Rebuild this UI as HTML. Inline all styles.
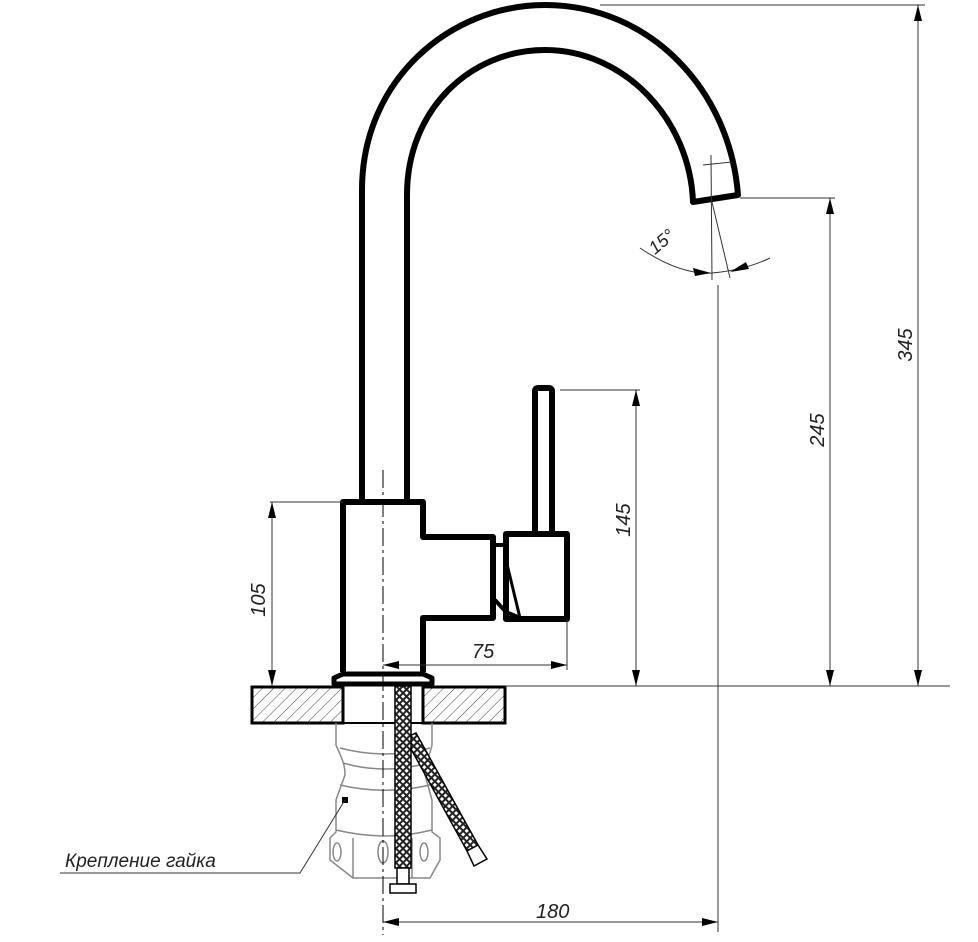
<!DOCTYPE html>
<html><head><meta charset="utf-8"><style>body{margin:0;background:#fff}svg{display:block}</style></head>
<body>
<svg width="978" height="942" viewBox="0 0 978 942" xmlns="http://www.w3.org/2000/svg" font-family="Liberation Sans, sans-serif">
<defs>
<pattern id="h" width="8" height="8" patternUnits="userSpaceOnUse" patternTransform="rotate(45)">
<line x1="0" y1="0" x2="0" y2="8" stroke="#444" stroke-width="1"/></pattern>
<pattern id="mesh" width="5" height="5" patternUnits="userSpaceOnUse" patternTransform="rotate(45)">
<rect width="5" height="5" fill="#222"/><rect x="1" y="1" width="3" height="3" fill="#fff"/></pattern>
</defs>
<g fill="none" stroke="#000" stroke-width="6" stroke-linejoin="round">
<path d="M362,500 L362,190 C362,80 450,5 545,5 C650,5 730,90 738,195 L693,202 C690,120 625,50 545,50 C470,50 407,110 407,195 L407,500"/>
<path d="M343,672 L343,502 L423,502 L423,537 L493,537 L493,618 L423,618 L423,672"/>
<rect x="506" y="534" width="61" height="85"/>
<rect x="535" y="388" width="17" height="146" rx="3"/>
<path d="M334,684 L334,678 L343,674 L423,674 L432,678 L432,684 Z" stroke-width="5"/>
</g>
<path d="M495,545 L506,545 M495,600 L506,612 L520,618" stroke="#000" stroke-width="4" fill="none"/>
<path d="M506,560 L520,618" stroke="#000" stroke-width="3" fill="none"/>
<!-- countertop -->
<rect x="252" y="687" width="91" height="36" fill="url(#h)" stroke="#000" stroke-width="3"/>
<rect x="423" y="687" width="82" height="36" fill="url(#h)" stroke="#000" stroke-width="3"/>
<line x1="343" y1="723" x2="423" y2="723" stroke="#000" stroke-width="2"/>
<!-- nut -->
<g fill="none" stroke="#888" stroke-width="1.5">
<path d="M336,723 L336,745 C340,755 345,762 345,775 L336,800 L336,832 L330,838 L330,860 L353,878 L430,878 L440,860 L440,838 L432,832 L432,800 L425,775 C425,762 430,755 432,745 L432,723"/>
<path d="M340,748 C370,756 400,756 430,748 M343,763 C370,771 400,771 427,763 M340,785 C370,792 400,792 430,785 M336,830 C370,838 400,838 432,830"/>
<ellipse cx="337" cy="852" rx="4" ry="9"/><ellipse cx="383" cy="852" rx="5" ry="11"/><ellipse cx="424" cy="852" rx="4" ry="9"/>
<line x1="353" y1="838" x2="353" y2="878"/><line x1="412" y1="838" x2="412" y2="878"/>
</g>
<rect x="342" y="797" width="6" height="6" fill="#000"/>
<!-- hoses -->
<path d="M405,738 L416,733 L478,845 L467,851 Z" fill="url(#mesh)" stroke="#000" stroke-width="1.5"/>
<path d="M467,851 L478,845 L487,859 L474,866 Z" fill="#fff" stroke="#000" stroke-width="1.5"/>
<rect x="395" y="686" width="16" height="182" fill="url(#mesh)" stroke="#000" stroke-width="1.5"/>
<rect x="397" y="868" width="12" height="16" fill="#fff" stroke="#000" stroke-width="1.5"/>
<rect x="390" y="884" width="26" height="9" fill="#fff" stroke="#000" stroke-width="1.5"/>
<!-- center line -->
<line x1="383" y1="470" x2="383" y2="935" stroke="#000" stroke-width="1" stroke-dasharray="18,4,3,4"/>
<!-- dims -->
<g stroke="#333" stroke-width="1" fill="none">
<line x1="270" y1="502" x2="343" y2="502"/><line x1="272" y1="502" x2="272" y2="686"/>
<line x1="560" y1="390" x2="640" y2="390"/><line x1="636" y1="390" x2="636" y2="686"/>
<line x1="740" y1="198" x2="835" y2="198"/><line x1="830" y1="198" x2="830" y2="686"/>
<line x1="600" y1="5" x2="925" y2="5"/><line x1="918" y1="5" x2="918" y2="686"/>
<line x1="505" y1="686" x2="950" y2="686"/>
<line x1="383" y1="665" x2="567" y2="665"/><line x1="567" y1="620" x2="567" y2="670"/>
<line x1="383" y1="922" x2="718" y2="922"/><line x1="718" y1="285" x2="718" y2="932"/>
<line x1="711" y1="155" x2="712" y2="280"/><line x1="712" y1="202" x2="730" y2="278"/>
<line x1="703" y1="165" x2="732" y2="162"/>
<path d="M640,248 Q680,275 712,273 Q745,270 770,258"/>
<path d="M252,873 L300,873 L345,800"/><line x1="60" y1="873" x2="300" y2="873"/>
</g>
<g fill="#000">
<path d="M272,502 l-4,16 l8,0z M272,686 l-4,-16 l8,0z"/>
<path d="M636,390 l-4,16 l8,0z M636,686 l-4,-16 l8,0z"/>
<path d="M830,198 l-4,16 l8,0z M830,686 l-4,-16 l8,0z"/>
<path d="M918,5 l-4,16 l8,0z M918,686 l-4,-16 l8,0z"/>
<path d="M383,665 l16,-4 l0,8z M567,665 l-16,-4 l0,8z"/>
<path d="M383,922 l16,-4 l0,8z M718,922 l-16,-4 l0,8z"/>
<path d="M711,273 l-18,-5 l2,8z M730,272 l16,-10 l3,7z"/>
</g>
<g font-style="italic" font-size="20" fill="#222">
<text transform="translate(265,600) rotate(-90)" text-anchor="middle">105</text>
<text transform="translate(630,520) rotate(-90)" text-anchor="middle">145</text>
<text transform="translate(824,430) rotate(-90)" text-anchor="middle">245</text>
<text transform="translate(912,345) rotate(-90)" text-anchor="middle">345</text>
<text x="472" y="658">75</text>
<text x="536" y="918">180</text>
<text transform="translate(655,255) rotate(-40)" font-size="18">15°</text>
<text x="65" y="867" font-size="19">Крепление гайка</text>
</g>
</svg>
</body></html>
